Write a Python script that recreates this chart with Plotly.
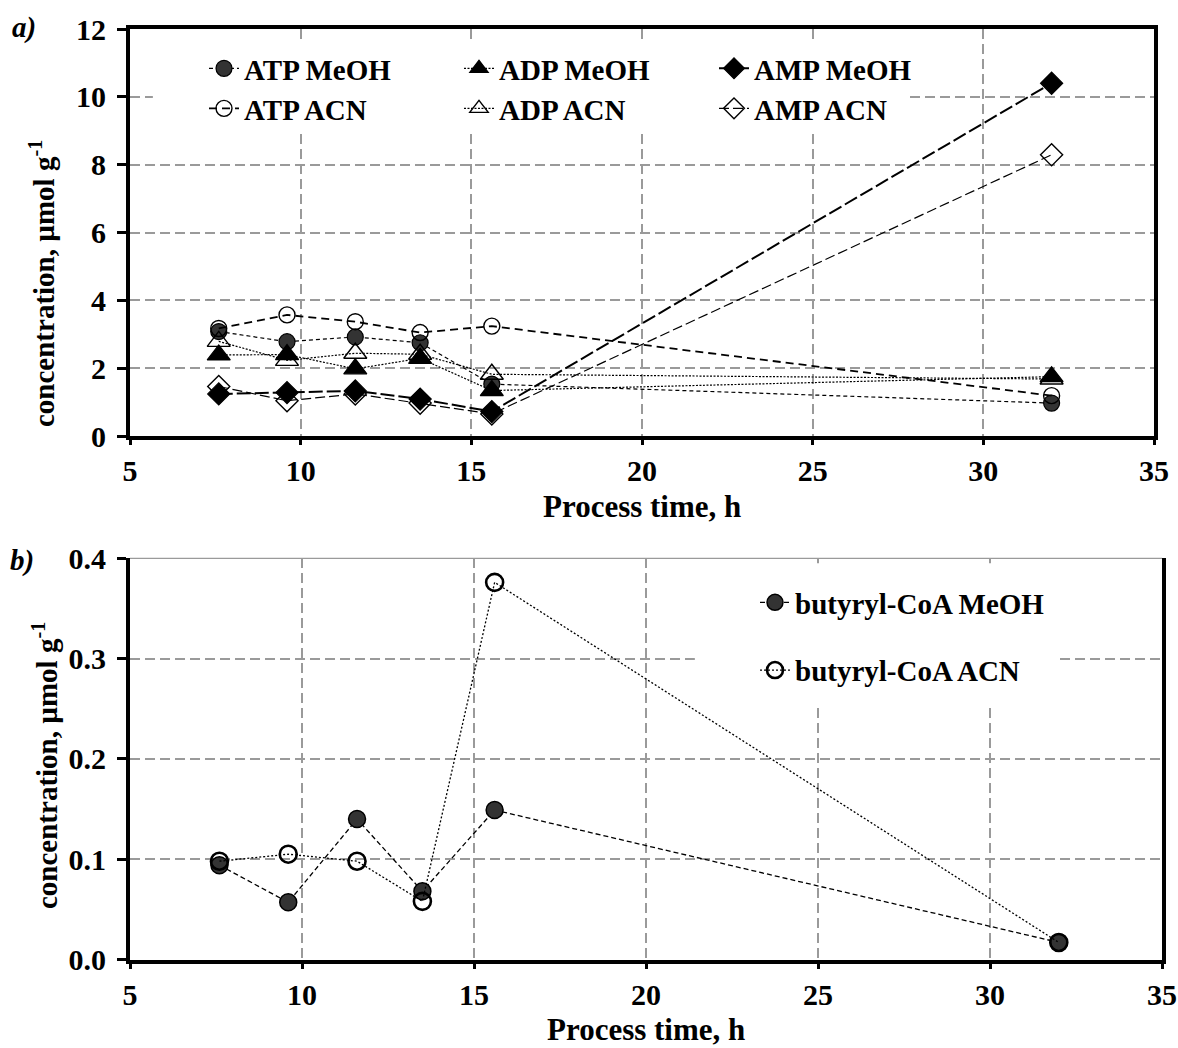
import plotly.graph_objects as go

# Sampling times (h)
time_h = [7.6, 9.6, 11.6, 13.5, 15.6, 32]

# Panel a: adenine nucleotides, µmol g-1
atp_meoh = [3.08, 2.78, 2.92, 2.75, 1.53, 0.97]
adp_meoh = [2.39, 2.40, 1.98, 2.29, 1.34, 1.75]
amp_meoh = [1.24, 1.28, 1.33, 1.09, 0.72, 10.4]
atp_acn = [3.17, 3.57, 3.37, 3.05, 3.24, 1.19]
adp_acn = [2.79, 2.23, 2.44, 2.41, 1.82, 1.68]
amp_acn = [1.46, 1.04, 1.24, 0.97, 0.65, 8.29]

# Panel b: butyryl-CoA, µmol g-1
butyryl_meoh = [0.094, 0.057, 0.140, 0.068, 0.149, 0.017]
butyryl_acn = [0.098, 0.105, 0.098, 0.058, 0.376, 0.017]

x_ticks = [5, 10, 15, 20, 25, 30, 35]
ya_ticks = [0, 2, 4, 6, 8, 10, 12]
yb_ticks = [0.0, 0.1, 0.2, 0.3, 0.4]

SERIF = "Liberation Serif"
W, H = 1178, 1048

fig = go.Figure()

def add(x, y, name, xa, ya, legend, rank, symbol, size, dash, lw,
        fill="#000000", mlw=1.2, group=None):
    fig.add_trace(go.Scatter(
        x=x, y=y, name=name, xaxis=xa, yaxis=ya, legend=legend,
        legendrank=rank, legendgroup=group or name,
        mode="lines+markers",
        line=dict(color="#000000", width=lw, dash=dash),
        marker=dict(symbol=symbol, size=size, color=fill,
                    line=dict(color="#000000", width=mlw)),
    ))

# Filled (MeOH) series first, open (ACN) series drawn on top
add(time_h, atp_meoh, "ATP MeOH", "x", "y", "legend", 1, "circle", 16, "4px,3px", 1.2, "#333333")
add(time_h, adp_meoh, "ADP MeOH", "x", "y", "legend", 2, "triangle-up", 20, "2px,1.5px", 1.2)
add(time_h, amp_meoh, "AMP MeOH", "x", "y", "legend", 3, "diamond", 17, "14px,4px", 2.0)
add(time_h, atp_acn, "ATP ACN", "x", "y", "legend3", 4, "circle-open", 16, "8px,5px", 1.8, mlw=1.4)
add(time_h, adp_acn, "ADP ACN", "x", "y", "legend3", 5, "triangle-up-open", 20, "2px,1.5px", 1.2, mlw=1.4)
add(time_h, amp_acn, "AMP ACN", "x", "y", "legend3", 6, "diamond-open", 17, "10px,4px", 1.2, mlw=1.4)

add(time_h, butyryl_meoh, "butyryl-CoA MeOH", "x2", "y2", "legend2", 1, "circle", 17, "5px,3px", 1.3, "#333333", 1.5, "g1")
add(time_h, butyryl_acn, "butyryl-CoA ACN", "x2", "y2", "legend2", 2, "circle-open", 17, "2px,2px", 1.3, mlw=2.6, group="g2")

tick_font = dict(family=SERIF, size=30, color="#000000", weight="bold")
grid = dict(showgrid=True, gridcolor="#9a9a9a", gridwidth=2, griddash="10px,5px")
axis_common = dict(showline=True, linecolor="#000000", linewidth=4, automargin=False,
                   ticks="outside", tickwidth=2.5, tickcolor="#000000",
                   tickfont=tick_font, zeroline=False, **grid)
legend_font = dict(family=SERIF, size=29, color="#000000", weight="bold")

fig.update_layout(
    width=W, height=H, autosize=False,
    margin=dict(l=0, r=0, t=0, b=0, autoexpand=False),
    paper_bgcolor="#ffffff", plot_bgcolor="#ffffff",
    showlegend=True,
    xaxis=dict(domain=[130 / W, 1154 / W], range=[5, 35], tickvals=x_ticks,
               anchor="y", mirror=True, ticklen=5, **axis_common),
    yaxis=dict(domain=[1 - 436 / H, 1 - 29 / H], range=[0, 12], tickvals=ya_ticks,
               anchor="x", mirror=True, ticklen=9, ticklabelstandoff=5, **axis_common),
    xaxis2=dict(domain=[130 / W, 1162 / W], range=[5, 35], tickvals=x_ticks,
                anchor="y2", mirror=False, ticklen=5, **axis_common),
    yaxis2=dict(domain=[1 - 959.5 / H, 1 - 558.3 / H], range=[0, 0.4], tickvals=yb_ticks,
                tickformat=".1f", anchor="x2", mirror=True, ticklen=9, ticklabelstandoff=5,
                **axis_common),
    legend=dict(x=204 / W, y=1 - 43 / H, xanchor="left", yanchor="top",
                orientation="h", entrywidth=210, bgcolor="rgba(0,0,0,0)", borderwidth=0,
                font=legend_font),
    legend3=dict(x=204 / W, y=1 - 83 / H, xanchor="left", yanchor="top",
                 orientation="h", entrywidth=210, bgcolor="rgba(0,0,0,0)", borderwidth=0,
                 font=legend_font),
    legend2=dict(x=755 / W, y=1 - 577 / H, xanchor="left", yanchor="top",
                 orientation="v", tracegroupgap=27, bgcolor="rgba(0,0,0,0)", borderwidth=0,
                 font=legend_font),
)

# White panels behind the legends hide the gridlines there (axis units)
fig.add_shape(type="rect", xref="x", yref="y", x0=5.67, x1=27.85, y0=8.96, y1=11.62,
              fillcolor="#ffffff", line=dict(width=0), layer="between")
fig.add_shape(type="rect", xref="x2", yref="y2", x0=21.42, x1=32.03, y0=0.254, y1=0.395,
              fillcolor="#ffffff", line=dict(width=0), layer="between")

# Thin top border of panel b
fig.add_shape(type="line", xref="x2 domain", yref="y2 domain", x0=0, x1=1, y0=1, y1=1,
              line=dict(color="#9a9a9a", width=1.2), layer="above")

label_font = dict(family=SERIF, size=29, color="#000000", weight="bold")
annotations = [
    dict(text="concentration, µmol g<sup>-1</sup>", x=42 / W, y=1 - 284 / H, textangle=-90),
    dict(text="concentration, µmol g<sup>-1</sup>", x=45 / W, y=1 - 766 / H, textangle=-90),
    dict(text="Process time, h", x=642 / W, y=1 - 506 / H, font=dict(label_font, size=31)),
    dict(text="Process time, h", x=646 / W, y=1 - 1029 / H, font=dict(label_font, size=31)),
    dict(text="a)", x=24 / W, y=1 - 28 / H, font=dict(label_font, style="italic")),
    dict(text="b)", x=22 / W, y=1 - 560 / H, font=dict(label_font, style="italic")),
]
for a in annotations:
    a.setdefault("font", label_font)
    fig.add_annotation(xref="paper", yref="paper", xanchor="center", yanchor="middle",
                       showarrow=False, **a)

fig.write_html("out.html")
